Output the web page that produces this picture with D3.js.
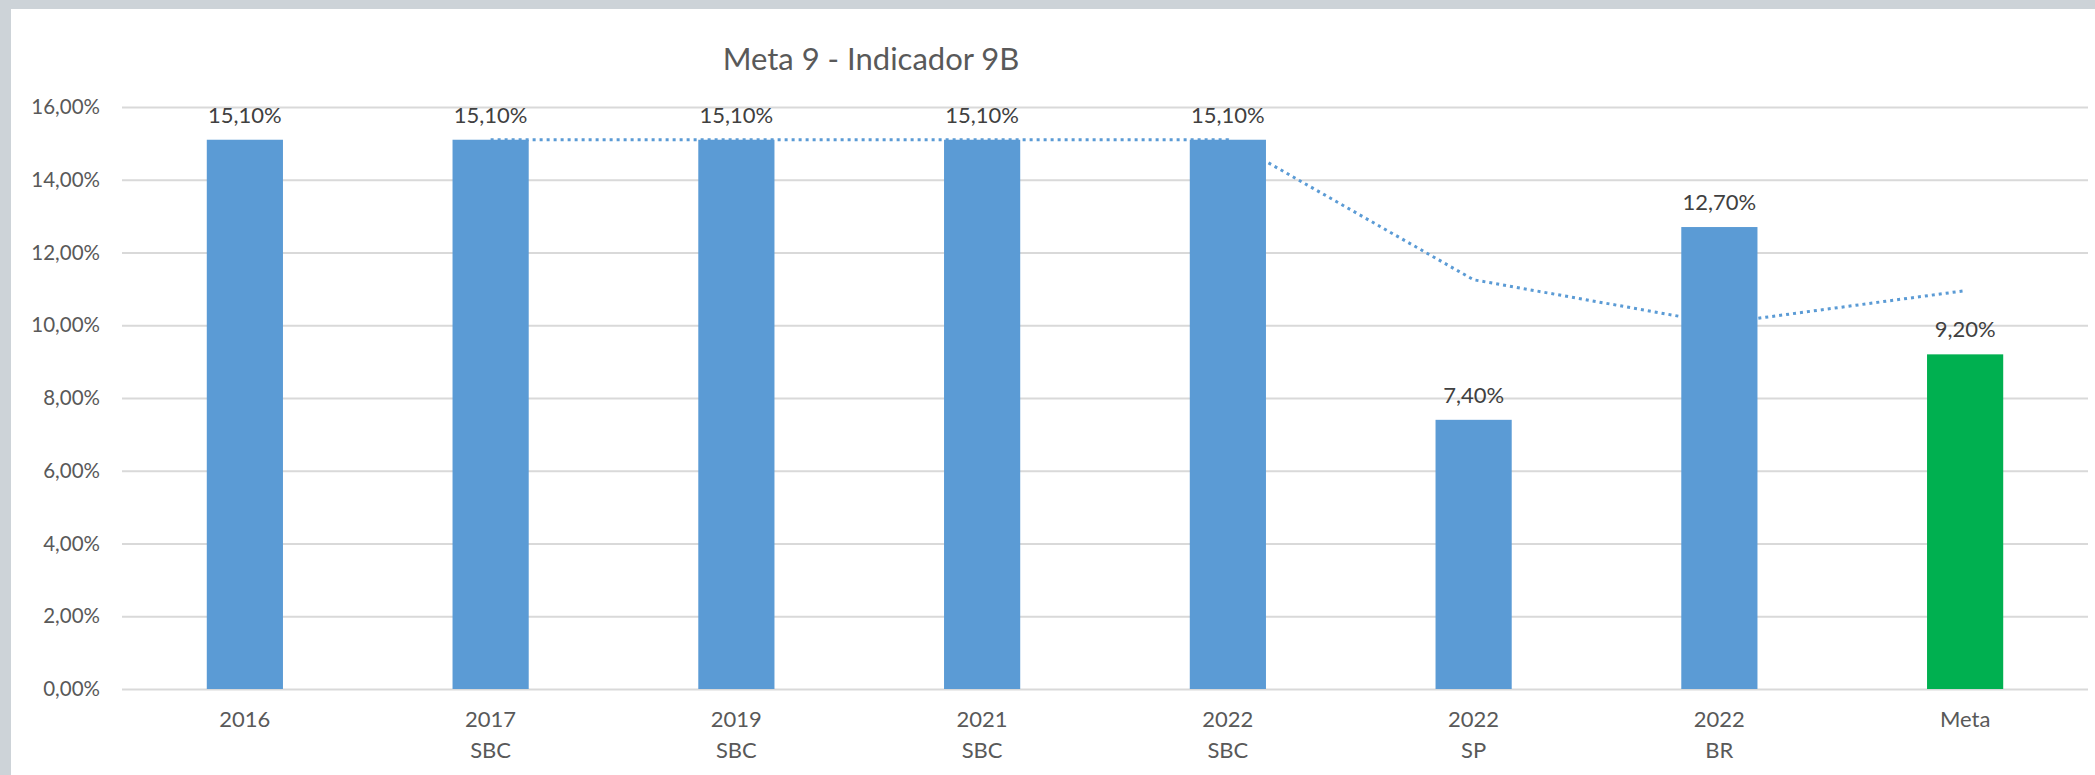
<!DOCTYPE html>
<html>
<head>
<meta charset="utf-8">
<script src="https://cdn.jsdelivr.net/npm/d3@7"></script>
<style>
  body { margin: 0; background: #fff; }
  text { font-family: Lato, "Open Sans", sans-serif; }
</style>
</head>
<body>
<script>
const W = 2095, H = 775;

// data
const years   = ['2016', '2017', '2019', '2021', '2022', '2022', '2022', 'Meta'];
const places  = ['',     'SBC',  'SBC',  'SBC',  'SBC',  'SP',   'BR',   ''];
const values  = [0.151, 0.151, 0.151, 0.151, 0.151, 0.074, 0.127, 0.092];
const colors  = ['#5b9bd5', '#5b9bd5', '#5b9bd5', '#5b9bd5', '#5b9bd5', '#5b9bd5', '#5b9bd5', '#00b050'];
// dotted trend line (moving average) as seen on the picture
const trend   = [null, 0.151, 0.151, 0.151, 0.151, 0.1125, 0.1005, 0.1095];
const yTicks  = [0, 0.02, 0.04, 0.06, 0.08, 0.10, 0.12, 0.14, 0.16];

const margin = {left: 122, right: 7, top: 107, bottom: 86};
const ptBR = d3.formatLocale({decimal: ',', thousands: '.', grouping: [3], currency: ['R$', '']});
const pct = ptBR.format('.2%');

const svg = d3.select('body').append('svg')
  .attr('width', W)
  .attr('height', H);

svg.append('rect').attr('width', W).attr('height', H).attr('fill', '#fff');
// grey frame on top and left
svg.append('rect').attr('x', 0).attr('y', 0).attr('width', W).attr('height', 9).attr('fill', '#cdd3d8');
svg.append('rect').attr('x', 0).attr('y', 0).attr('width', 11).attr('height', H).attr('fill', '#cdd3d8');

const idx = d3.range(years.length);
const x = d3.scaleBand()
  .domain(idx)
  .range([margin.left, W - margin.right])
  .padding(0);
const y = d3.scaleLinear()
  .domain([0, 0.16])
  .range([H - margin.bottom, margin.top]);

const barW = x.bandwidth() * 0.31;

// title
svg.append('text')
  .attr('x', 871)
  .attr('y', 70)
  .attr('text-anchor', 'middle')
  .attr('font-size', 31)
  .attr('fill', '#595959')
  .text('Meta 9 - Indicador 9B');

// gridlines + y labels
const yAxis = svg.append('g')
  .attr('transform', `translate(${margin.left},0)`)
  .call(d3.axisLeft(y).tickValues(yTicks).tickFormat(pct)
    .tickSize(-(W - margin.left - margin.right)).tickPadding(22));
yAxis.select('.domain').remove();
yAxis.selectAll('line').attr('stroke', '#d9d9d9').attr('stroke-width', 2);
yAxis.selectAll('text').attr('font-size', 20.5).attr('fill', '#595959');

// trend line (behind bars)
const line = d3.line()
  .defined(d => d != null)
  .x((d, i) => x(i) + x.bandwidth() / 2)
  .y(d => y(d));
svg.append('path')
  .datum(trend)
  .attr('d', line)
  .attr('fill', 'none')
  .attr('stroke', '#5b9bd5')
  .attr('stroke-width', 3)
  .attr('stroke-dasharray', '3 4');

// bars
svg.selectAll('rect.bar')
  .data(values)
  .enter()
  .append('rect')
  .attr('class', 'bar')
  .attr('x', (d, i) => x(i) + (x.bandwidth() - barW) / 2)
  .attr('y', d => y(d))
  .attr('width', barW)
  .attr('height', d => y(0) - y(d))
  .attr('fill', (d, i) => colors[i]);

// value labels
svg.selectAll('text.val')
  .data(values)
  .enter()
  .append('text')
  .attr('class', 'val')
  .attr('x', (d, i) => x(i) + x.bandwidth() / 2)
  .attr('y', d => y(d) - 17)
  .attr('text-anchor', 'middle')
  .attr('font-size', 22)
  .attr('fill', '#404040')
  .text(d => pct(d));

// x labels, two lines
const xl = svg.selectAll('text.cat')
  .data(idx)
  .enter()
  .append('text')
  .attr('class', 'cat')
  .attr('text-anchor', 'middle')
  .attr('font-size', 22)
  .attr('fill', '#595959');
xl.append('tspan')
  .attr('x', i => x(i) + x.bandwidth() / 2)
  .attr('y', y(0) + 38)
  .text(i => years[i]);
xl.append('tspan')
  .attr('x', i => x(i) + x.bandwidth() / 2)
  .attr('y', y(0) + 69)
  .text(i => places[i]);
</script>
</body>
</html>
